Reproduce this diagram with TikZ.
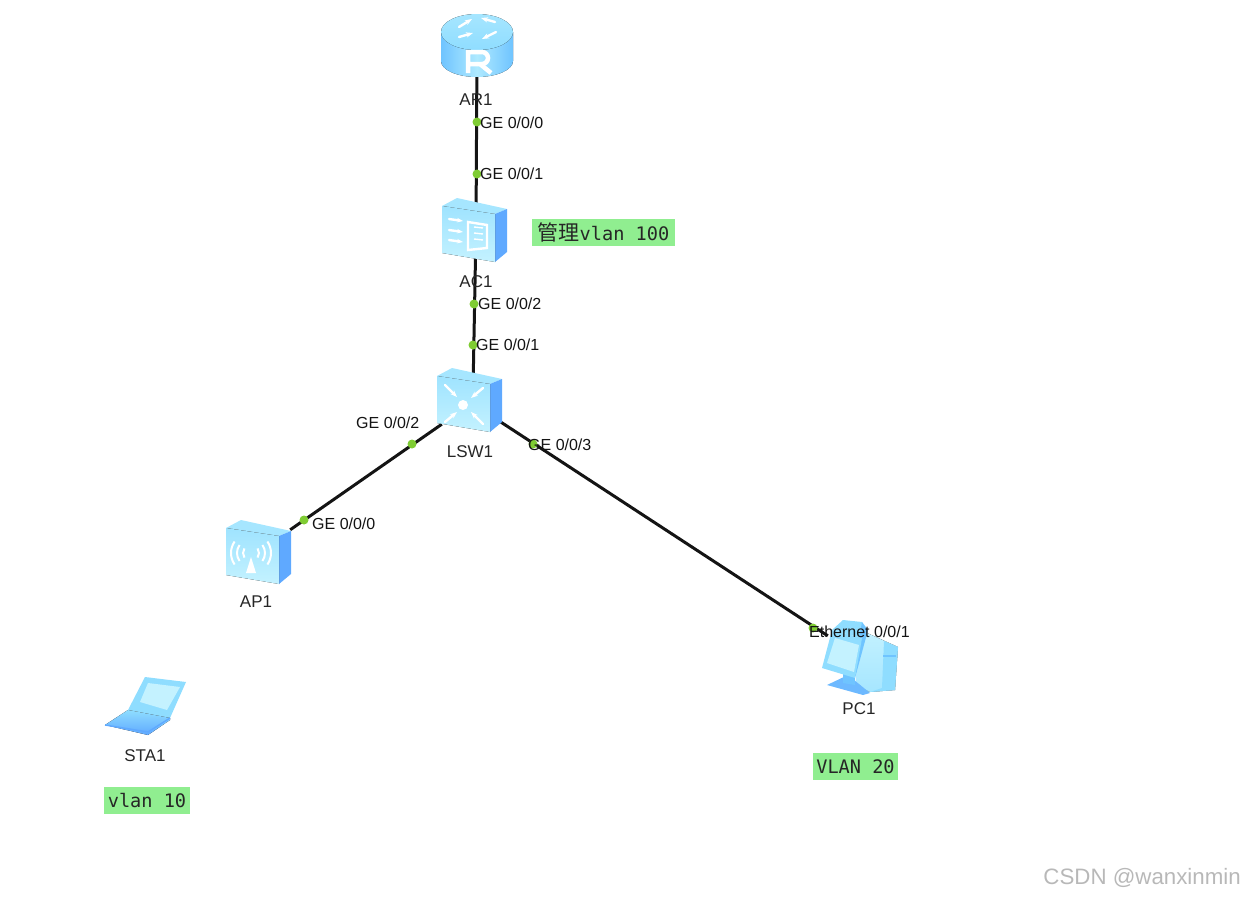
\documentclass[tikz,border=0pt]{standalone}
\usepackage{fontspec}
\setmainfont{Liberation Sans}
\newfontfamily\codefont{DejaVu Sans Mono}
\newfontfamily\cjkfont{Noto Sans CJK SC}
\usetikzlibrary{arrows.meta,positioning}
\definecolor{linkblack}{HTML}{141414}
\definecolor{portgreen}{HTML}{7FCC33}
\definecolor{notegreen}{HTML}{90EE90}
\definecolor{iconlight}{HTML}{C4F2FF}
\definecolor{iconmid}{HTML}{8FDDFF}
\definecolor{icontop}{HTML}{A6E6FF}
\definecolor{iconside}{HTML}{5FA9FF}
\definecolor{icondeep}{HTML}{6FC4FF}
\tikzset{
      device/.style={inner sep=0pt},
      link/.style={draw=linkblack, line width=3pt},
      port/.style={circle, fill=portgreen, minimum size=9pt, inner sep=0pt},
      portlabel/.style={inner sep=0pt, anchor=west, text=black!92, font=\fontsize{16}{18}\selectfont},
      devlabel/.style={inner sep=0pt, text=black!85, font=\fontsize{17}{19}\selectfont},
      note/.style={fill=notegreen, inner xsep=2pt, inner ysep=0pt, minimum height=27pt, text=black!85, font=\codefont\fontsize{18.6}{20}\selectfont},
      glyph/.style={draw=white, line width=2.4pt, line cap=round},
      boxicon/.pic={
        \fill[icontop] (-32,-24) -- (-17,-32) -- (33,-21) -- (21,-16) -- cycle;
        \fill[iconside] (21,-16) -- (33,-21) -- (33,22) -- (21,32) -- cycle;
        \fill[top color=iconmid!70!iconlight, bottom color=iconlight] (-32,-24) -- (21,-16) -- (21,32) -- (-32,23) -- cycle;
      },
      routericon/.pic={
        \fill[left color=icondeep, right color=icondeep, middle color=iconlight!60!iconmid] (-36,-15) -- (-36,14) arc[start angle=180, end angle=0, x radius=36, y radius=16] -- (36,-15) -- cycle;
        \fill[top color=icontop, bottom color=iconmid] (0,-15) ellipse[x radius=36, y radius=18];
        \draw[glyph, -{Stealth[length=7pt]}] (-18,-20) -- (-5,-28);
        \draw[glyph, -{Stealth[length=7pt]}] (18,-25) -- (4,-29);
        \draw[glyph, -{Stealth[length=7pt]}] (-18,-10) -- (-4,-14);
        \draw[glyph, -{Stealth[length=7pt]}] (19,-15) -- (5,-8);
        \draw[draw=white, line width=4.5pt] (-9,26) -- (-9,5) -- (5,5) arc[start angle=-90, end angle=90, radius=6] -- (-9,17);
        \draw[draw=white, line width=4.5pt] (3,17) -- (14,26);
      },
      acicon/.pic={
        \pic {boxicon};
        \draw[glyph, -{Stealth[length=6pt]}] (-25,-11) -- (-11,-9);
        \draw[glyph, -{Stealth[length=6pt]}] (-25,0) -- (-11,2);
        \draw[glyph, -{Stealth[length=6pt]}] (-25,10) -- (-11,12);
        \draw[draw=white, line width=2.4pt] (-6,-8) -- (13,-5) -- (13,18) -- (-6,20) -- cycle;
        \draw[draw=white, line width=1.4pt] (0,-3) -- (9,-2) (0,3) -- (9,4) (0,9) -- (9,10);
      },
      swicon/.pic={
        \pic {boxicon};
        \fill[white] (-6,5) circle[radius=5];
        \draw[glyph, -{Stealth[length=7pt]}] (-24,-15) -- (-12,-3);
        \draw[glyph, -{Stealth[length=7pt]}] (14,-12) -- (2,-2);
        \draw[glyph, -{Stealth[length=7pt]}] (-24,22) -- (-12,12);
        \draw[glyph, -{Stealth[length=7pt]}] (14,24) -- (2,12);
      },
      apicon/.pic={
        \pic {boxicon};
        \fill[white] (-12,21) -- (-2,21) -- (-7,5) -- cycle;
        \foreach \rad in {8,14,20} {
          \draw[draw=white, line width=2pt] (-7,1) ++(145:\rad) arc[start angle=145, end angle=215, radius=\rad];
          \draw[draw=white, line width=2pt] (-7,1) ++(-35:\rad) arc[start angle=-35, end angle=35, radius=\rad];
        }
      },
      pcicon/.pic={
        \fill[top color=iconlight, bottom color=icontop] (-2,-27) -- (40,-8) -- (37,35) -- (12,37) -- (-2,30) -- cycle;
        \fill[iconmid] (26,-14) -- (40,-8) -- (37,35) -- (12,37) -- (24,33) -- cycle;
        \draw[icondeep, line width=1.4pt] (25,1) -- (38,1);
        \fill[iconside!70!iconmid] (-31,30) -- (-10,20) -- (12,38) -- (5,40) -- cycle;
        \fill[icondeep] (-15,15) -- (-3,15) -- (-3,30) -- (-15,28) -- cycle;
        \fill[iconmid] (-15,-35) -- (4,-33) -- (4,-17) -- (-26,-25) -- cycle;
        \fill[icondeep] (4,-33) -- (10,-25) -- (-3,23) -- (-6,22) -- cycle;
        \fill[iconmid] (-26,-25) -- (4,-17) -- (-3,23) -- (-36,13) -- cycle;
        \fill[iconlight] (-23,-17) -- (1,-10) -- (-4,17) -- (-31,8) -- cycle;
      },
      staicon/.pic={
        \fill[iconmid] (-1,-29) -- (40,-24) -- (24,12) -- (-18,4) -- cycle;
        \fill[iconlight] (2,-23) -- (34,-19) -- (21,4) -- (-6,-4) -- cycle;
        \fill[top color=iconmid, bottom color=iconside] (-41,19) -- (-18,4) -- (24,12) -- (24,14) -- (2,29) -- cycle;
        \draw[iconside, line width=1.4pt] (-41,19) -- (2,26) -- (24,12);
      }
    }

\begin{document}
\begin{tikzpicture}[x=1pt,y=-1pt]
    \useasboundingbox (0,0) rectangle (1245,897);
    \node[device] (ar1) at (477,47) {};
    \node[device] (ac1) at (476,230) {};
    \node[device, minimum width=54pt, minimum height=48pt] (lsw1) at (469,400) {};
    \node[device, minimum width=64pt, minimum height=44pt] (ap1) at (258,552) {};
    \node[device, minimum width=60pt, minimum height=38pt] (pc1) at (858,655) {};
    \pic at (pc1) {pcicon};
    \draw[link] (ar1) -- (ac1);
    \draw[link] (ac1) -- (lsw1.80);
    \draw[link] (lsw1.south west) -- (ap1.north east);
    \draw[link] (lsw1.-35) -- (pc1.north west);
    \pic at (ar1) {routericon};
    \pic at ([xshift=-2pt]ac1) {acicon};
    \pic at (lsw1) {swicon};
    \pic at (ap1) {apicon};
    \node[device] (sta1) at (146,706) {};
    \pic at (sta1) {staicon};
    \node[port] (p1) at (477,122) {};
    \node[port] (p2) at (477,174) {};
    \node[port] (p3) at (474,304) {};
    \node[port] (p4) at (473,345) {};
    \node[port] (p5) at (412,444) {};
    \node[port] (p6) at (304,520) {};
    \node[port] (p7) at (533,444) {};
    \node[port] (p8) at (813,628) {};
    \node[portlabel] (l1) at (480,123) {GE 0/0/0};
    \node[portlabel] (l2) at (480,174) {GE 0/0/1};
    \node[portlabel] (l3) at (478,304) {GE 0/0/2};
    \node[portlabel] (l4) at (476,345) {GE 0/0/1};
    \node[portlabel] (l5) at (356,423) {GE 0/0/2};
    \node[portlabel] (l6) at (312,524) {GE 0/0/0};
    \node[portlabel] (l7) at (528,445) {GE 0/0/3};
    \node[portlabel] (l8) at (809,632) {Ethernet 0/0/1};
    \node[devlabel] (ar1name) at (476,100) {AR1};
    \node[devlabel] (ac1name) at (476,282) {AC1};
    \node[devlabel] (lsw1name) at (470,452) {LSW1};
    \node[devlabel] (ap1name) at (256,602) {AP1};
    \node[devlabel] (pc1name) at (859,709) {PC1};
    \node[devlabel] (sta1name) at (145,756) {STA1};
    \node[note, minimum width=143pt] (n1) at (603.5,232.5) {{\cjkfont\fontsize{21}{22}\selectfont 管理}vlan 100\hspace{7.4pt}};
    \node[note, minimum width=86pt] (n2) at (147,800.5) {vlan 10};
    \node[note, minimum width=85pt] (n3) at (855.5,766.5) {VLAN 20};
    \node[inner sep=0pt, anchor=east, text=black!28, font=\fontsize{22.3}{25}\selectfont] (mark1) at (1241,878) {CSDN @wanxinmin};
    \end{tikzpicture}
\end{document}
